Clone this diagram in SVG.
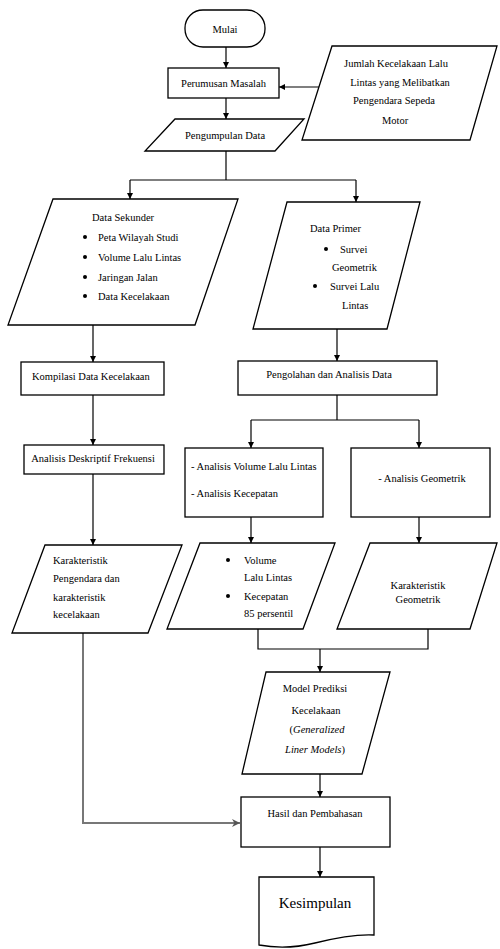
<svg xmlns="http://www.w3.org/2000/svg" width="500" height="949" viewBox="0 0 500 949">
<style>
.s{fill:#fff;stroke:#000;stroke-width:1.3}
.t{font-family:"Liberation Serif","Times New Roman",serif;font-size:10.5px;fill:#000;dominant-baseline:central}
.c{text-anchor:middle}
.i{font-style:italic}
.ln{fill:none;stroke:#000;stroke-width:1.2}
.gl{fill:none;stroke:#777;stroke-width:2}
.b{fill:#000}
</style>
<defs>
<marker id="ah" viewBox="0 0 10 10" refX="10" refY="5" markerWidth="6" markerHeight="6" markerUnits="userSpaceOnUse" orient="auto">
<path d="M0,0 L10,5 L0,10 Z" fill="#000"/>
</marker>
<marker id="ag" viewBox="0 0 10 10" refX="10" refY="5" markerWidth="8" markerHeight="8" markerUnits="userSpaceOnUse" orient="auto">
<path d="M0,0 L10,5 L0,10 L3,5 Z" fill="#555"/>
</marker>
</defs>
<rect width="500" height="949" fill="#fff"/>
<g id="connectors">
<path class="ln" d="M226,47 V68" marker-end="url(#ah)"/>
<path class="ln" d="M226,98 V119" marker-end="url(#ah)"/>
<path class="ln" d="M322,87 H279" marker-end="url(#ah)"/>
<path class="ln" d="M226,151 V180"/>
<path class="ln" d="M130,180 H356"/>
<path class="ln" d="M130,180 V199" marker-end="url(#ah)"/>
<path class="ln" d="M356,180 V202" marker-end="url(#ah)"/>
<path class="ln" d="M93,325 V362" marker-end="url(#ah)"/>
<path class="ln" d="M93,395 V445" marker-end="url(#ah)"/>
<path class="ln" d="M93,474 V545" marker-end="url(#ah)"/>
<path class="gl" d="M83,633 V823 H240" marker-end="url(#ag)"/>
<path class="ln" d="M337,329 V361" marker-end="url(#ah)"/>
<path class="ln" d="M337,395 V420"/>
<path class="ln" d="M251,420 H419"/>
<path class="ln" d="M251,420 V448" marker-end="url(#ah)"/>
<path class="ln" d="M419,420 V448" marker-end="url(#ah)"/>
<path class="ln" d="M251,517 V543" marker-end="url(#ah)"/>
<path class="ln" d="M419,517 V543" marker-end="url(#ah)"/>
<path class="ln" d="M258,629 V649 H428 V629"/>
<path class="ln" d="M320,649 V672" marker-end="url(#ah)"/>
<path class="ln" d="M320,774 V797" marker-end="url(#ah)"/>
<path class="ln" d="M320,847 V877" marker-end="url(#ah)"/>
</g>
<g id="mulai">
<rect class="s" x="185" y="10" width="80" height="37" rx="18"/>
<text class="t c" x="225" y="29">Mulai</text>
</g>
<g id="perumusan">
<rect class="s" x="168" y="68" width="111" height="30"/>
<text class="t c" x="223.5" y="83">Perumusan Masalah</text>
</g>
<g id="jumlah">
<polygon class="s" points="332,46 497,46 470,140 302,140"/>
<text class="t c" x="396" y="63">Jumlah Kecelakaan Lalu</text>
<text class="t c" x="400" y="82">Lintas yang Melibatkan</text>
<text class="t c" x="394" y="100">Pengendara Sepeda</text>
<text class="t c" x="395" y="120">Motor</text>
</g>
<g id="pengumpulan">
<polygon class="s" points="175,119 304,119 275,151 145,151"/>
<text class="t c" x="225" y="135">Pengumpulan Data</text>
</g>
<g id="sekunder">
<polygon class="s" points="53,199 238,199 195,325 8,325"/>
<text class="t" x="92" y="217">Data Sekunder</text>
<circle class="b" cx="85" cy="237" r="2"/>
<text class="t" x="98" y="237">Peta Wilayah Studi</text>
<circle class="b" cx="85" cy="257" r="2"/>
<text class="t" x="98" y="257">Volume Lalu Lintas</text>
<circle class="b" cx="85" cy="277" r="2"/>
<text class="t" x="98" y="277">Jaringan Jalan</text>
<circle class="b" cx="85" cy="296" r="2"/>
<text class="t" x="98" y="296">Data Kecelakaan</text>
</g>
<g id="primer">
<polygon class="s" points="287,202 420,202 387,329 253,329"/>
<text class="t" x="310" y="228">Data Primer</text>
<circle class="b" cx="326" cy="249" r="2"/>
<text class="t" x="340" y="249">Survei</text>
<text class="t" x="332" y="267">Geometrik</text>
<circle class="b" cx="315" cy="286" r="2"/>
<text class="t" x="330" y="286">Survei Lalu</text>
<text class="t" x="342" y="305">Lintas</text>
</g>
<g id="kompilasi">
<rect class="s" x="21" y="362" width="143" height="33"/>
<text class="t" x="32" y="376">Kompilasi Data Kecelakaan</text>
</g>
<g id="deskriptif">
<rect class="s" x="24" y="445" width="140" height="29"/>
<text class="t c" x="93" y="458">Analisis Deskriptif  Frekuensi</text>
</g>
<g id="karakteristik">
<polygon class="s" points="45,545 182,545 148,633 12,633"/>
<text class="t" x="53" y="560">Karakteristik</text>
<text class="t" x="53" y="578">Pengendara dan</text>
<text class="t" x="53" y="597">karakteristik</text>
<text class="t" x="53" y="614">kecelakaan</text>
</g>
<g id="pengolahan">
<rect class="s" x="238" y="361" width="199" height="34"/>
<text class="t c" x="329" y="374">Pengolahan dan Analisis Data</text>
</g>
<g id="analisis-volume">
<rect class="s" x="185" y="448" width="138" height="69"/>
<text class="t" x="191" y="466">- Analisis Volume Lalu Lintas</text>
<text class="t" x="191" y="493">- Analisis Kecepatan</text>
</g>
<g id="analisis-geometrik">
<rect class="s" x="351" y="448" width="139" height="69"/>
<text class="t c" x="422" y="478">- Analisis Geometrik</text>
</g>
<g id="output-volume">
<polygon class="s" points="200,543 335,543 303,629 167,629"/>
<circle class="b" cx="228" cy="560" r="2"/>
<text class="t" x="244" y="560">Volume</text>
<text class="t" x="244" y="577">Lalu Lintas</text>
<circle class="b" cx="228" cy="596" r="2"/>
<text class="t" x="244" y="596">Kecepatan</text>
<text class="t" x="244" y="613">85 persentil</text>
</g>
<g id="output-geometrik">
<polygon class="s" points="370,543 497,543 470,629 337,629"/>
<text class="t c" x="418" y="585">Karakteristik</text>
<text class="t c" x="418" y="599">Geometrik</text>
</g>
<g id="model">
<polygon class="s" points="266,672 390,672 362,774 242,774"/>
<text class="t c" x="315" y="688">Model Prediksi</text>
<text class="t c" x="316" y="710">Kecelakaan</text>
<text class="t c" x="317" y="729">(<tspan class="i">Generalized</tspan></text>
<text class="t c" x="315" y="749"><tspan class="i">Liner Models</tspan>)</text>
</g>
<g id="hasil">
<rect class="s" x="241" y="797" width="149" height="50"/>
<text class="t c" x="315" y="813">Hasil dan Pembahasan</text>
</g>
<g id="kesimpulan">
<path class="s" d="M259,877 H374 V935 C355,934 335,938 315,943 C295,948 275,948 259,945 Z"/>
<text class="t c" x="315" y="903" style="font-size:15px">Kesimpulan</text>
</g>
</svg>
